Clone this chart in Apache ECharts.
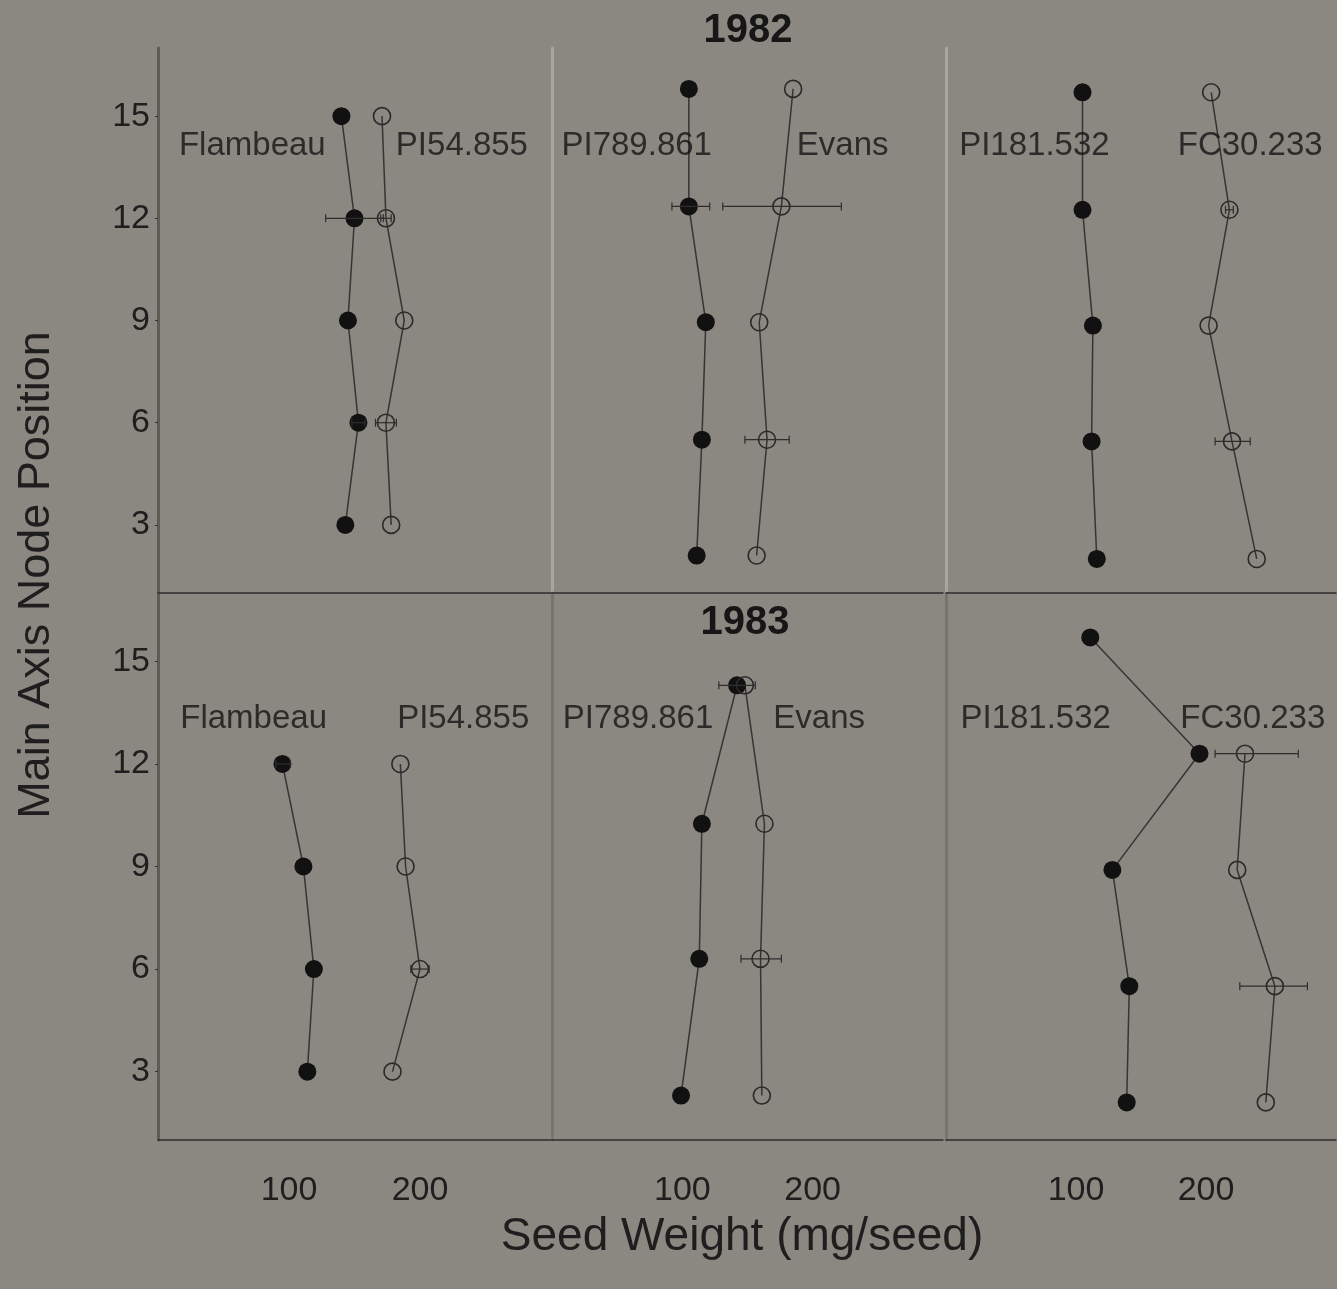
<!DOCTYPE html>
<html>
<head>
<meta charset="utf-8">
<script src="https://cdn.jsdelivr.net/npm/echarts@6/dist/echarts.min.js"></script>
<style>
  html, body { margin: 0; padding: 0; background: #8b8781; }
  #chart { width: 1337px; height: 1289px; }
</style>
</head>
<body>
<div id="chart"></div>
<script>
// ---------- DATA ----------
const yTickValues = [3, 6, 9, 12, 15];
const xTickValues = [100, 200];
const years = ['1982', '1983'];
const cultivarNames = ['Flambeau', 'PI54.855', 'PI789.861', 'Evans', 'PI181.532', 'FC30.233'];

// 1982 (node position, seed weight mg/seed)
const node82_c1 = [15, 12, 9, 6, 3];
const flambeau82 = [140, 150, 145, 153, 143];
const pi54855_82 = [171, 174, 188, 174, 178];
const node82_c2 = [15.8, 12.35, 8.95, 5.5, 2.1];
const pi789861_82 = [105, 105, 118, 115, 111];
const evans82 = [185, 176, 159, 165, 157];
const node82_c3 = [15.7, 12.25, 8.85, 5.45, 2.0];
const pi181532_82 = [105, 105, 113, 112, 116];
const fc30233_82 = [204, 218, 202, 220, 239];

// 1983
const node83_c1 = [12, 9, 6, 3];
const flambeau83 = [95, 111, 119, 114];
const pi54855_83 = [185, 189, 200, 179];
const node83_c2 = [14.3, 10.25, 6.3, 2.3];
const pi789861_83 = [142, 115, 113, 99];
const evans83 = [148, 163, 160, 161];
const node83_c3a = [15.7, 12.3, 8.9, 5.5, 2.1];
const pi181532_83 = [111, 195, 128, 141, 139];
const node83_c3b = [12.3, 8.9, 5.5, 2.1];
const fc30233_83 = [230, 224, 253, 246];

// error bars: [node, low, high]
const flambeau82_err = [[12, 128, 172], [6, 148, 158]];
const pi54855_82_err = [[12, 170, 178], [6, 166, 182]];
const pi789861_82_err = [[12.35, 92, 121]];
const evans82_err = [[12.35, 131, 222], [5.5, 148, 182]];
const fc30233_82_err = [[12.25, 215, 221], [5.45, 207, 234]];
const flambeau83_err = [[12, 90, 101]];
const pi54855_83_err = [[6, 193, 207]];
const pi789861_83_err = [[14.3, 128, 156]];
const evans83_err = [[6.3, 145, 176]];
const fc30233_83_err = [[12.3, 207, 271], [5.5, 226, 278]];

// ---------- BUILD ----------
const FONT = "'Liberation Sans', Arial, Helvetica, sans-serif";
const zip = (xs, ys) => xs.map((x, i) => [x, ys[i]]);

const colLeft = [158, 552, 946];
const colWidth = [393, 391, 390];
const rowTop = [48, 593];
const rowHeight = [545, 547];

const grids = [], xAxes = [], yAxes = [];
for (let r = 0; r < 2; r++) {
  for (let c = 0; c < 3; c++) {
    const i = r * 3 + c;
    grids.push({ left: colLeft[c], top: rowTop[r], width: colWidth[c], height: rowHeight[r], containLabel: false });
    xAxes.push({
      type: 'value', gridIndex: i, min: 0, max: 300,
      splitLine: { show: false },
      axisLine: { show: true, onZero: false, lineStyle: { color: '#2e2e2e', width: 1.5 } },
      axisTick: { show: false },
      axisLabel: {
        show: r === 1, customValues: xTickValues, margin: 34,
        fontFamily: FONT, fontSize: 34, color: '#1e1e1e'
      }
    });
    yAxes.push({
      type: 'value', gridIndex: i, min: 1, max: 17,
      splitLine: { show: false },
      axisLine: { show: true, onZero: false, lineStyle: c === 0 ? { color: '#5e5b57', width: 3 } : { color: (r === 0 ? '#a9a6a0' : '#77746f'), width: 3 } },
      axisTick: { show: c === 0, customValues: yTickValues, length: 3, lineStyle: { color: '#333', width: 1 } },
      axisLabel: {
        show: c === 0, customValues: yTickValues, margin: 8,
        fontFamily: FONT, fontSize: 34, color: '#1e1e1e'
      }
    });
  }
}

const lineStyle = { color: '#353535', width: 1.5 };
function filled(idx, xs, ys) {
  return {
    type: 'line', xAxisIndex: idx, yAxisIndex: idx, data: zip(xs, ys),
    symbol: 'circle', symbolSize: 18, showSymbol: true,
    lineStyle: lineStyle, itemStyle: { color: '#111111' }, z: 3
  };
}
function open(idx, xs, ys) {
  return {
    type: 'line', xAxisIndex: idx, yAxisIndex: idx, data: zip(xs, ys),
    symbol: 'circle', symbolSize: 17, showSymbol: true,
    lineStyle: lineStyle, itemStyle: { color: 'rgba(0,0,0,0)', borderColor: '#2a2a2a', borderWidth: 1.6 }, z: 3
  };
}
function errBars(idx, triples) {
  return {
    type: 'custom', xAxisIndex: idx, yAxisIndex: idx, data: triples, z: 4,
    encode: { x: [1, 2], y: 0 },
    renderItem: function (params, api) {
      const y = api.value(0), lo = api.value(1), hi = api.value(2);
      const p1 = api.coord([lo, y]), p2 = api.coord([hi, y]);
      const st = { stroke: '#2e2e2e', lineWidth: 1.2 };
      return {
        type: 'group', children: [
          { type: 'line', shape: { x1: p1[0], y1: p1[1], x2: p2[0], y2: p2[1] }, style: st },
          { type: 'line', shape: { x1: p1[0], y1: p1[1] - 4, x2: p1[0], y2: p1[1] + 4 }, style: st },
          { type: 'line', shape: { x1: p2[0], y1: p2[1] - 4, x2: p2[0], y2: p2[1] + 4 }, style: st }
        ]
      };
    }
  };
}
// annotation placement (panel index, x, y in data units)
const annotPlace = [
  [0, 72, 14.12], [0, 232, 14.12], [1, 65, 14.12], [1, 223, 14.12], [2, 68, 14.12], [2, 234, 14.12],
  [3, 73, 13.33], [3, 233, 13.33], [4, 66, 13.33], [4, 205, 13.33], [5, 69, 13.33], [5, 236, 13.33]
];
const annotSeries = annotPlace.map((a, k) => ({
  type: 'scatter', xAxisIndex: a[0], yAxisIndex: a[0], z: 5, silent: true,
  symbolSize: 1, itemStyle: { color: 'rgba(0,0,0,0)' },
  data: [[a[1], a[2]]],
  label: {
    show: true, position: 'inside', formatter: cultivarNames[k % 6],
    fontFamily: FONT, fontSize: 33, color: '#141414'
  }
}));

const series = [
  filled(0, flambeau82, node82_c1), open(0, pi54855_82, node82_c1),
  filled(1, pi789861_82, node82_c2), open(1, evans82, node82_c2),
  filled(2, pi181532_82, node82_c3), open(2, fc30233_82, node82_c3),
  filled(3, flambeau83, node83_c1), open(3, pi54855_83, node83_c1),
  filled(4, pi789861_83, node83_c2), open(4, evans83, node83_c2),
  filled(5, pi181532_83, node83_c3a), open(5, fc30233_83, node83_c3b),
  errBars(0, flambeau82_err), errBars(0, pi54855_82_err),
  errBars(1, pi789861_82_err), errBars(1, evans82_err),
  errBars(2, fc30233_82_err),
  errBars(3, flambeau83_err), errBars(3, pi54855_83_err),
  errBars(4, pi789861_83_err), errBars(4, evans83_err),
  errBars(5, fc30233_83_err)
].concat(annotSeries);

const option = {
  backgroundColor: '#8b8781',
  animation: false,
  grid: grids,
  xAxis: xAxes,
  yAxis: yAxes,
  series: series,
  graphic: [
    { type: 'text', x: 748, y: 31, style: { text: years[0], font: 'bold 40px ' + FONT, fill: '#161616', textAlign: 'center', textVerticalAlign: 'middle' } },
    { type: 'text', x: 745, y: 623, style: { text: years[1], font: 'bold 40px ' + FONT, fill: '#161616', textAlign: 'center', textVerticalAlign: 'middle' } },
    { type: 'text', x: 37, y: 575, rotation: Math.PI / 2, style: { text: 'Main Axis Node Position', font: '45px ' + FONT, fill: '#1e1e1e', textAlign: 'center', textVerticalAlign: 'middle' } },
    { type: 'text', x: 742, y: 1237, style: { text: 'Seed Weight (mg/seed)', font: '46px ' + FONT, fill: '#1e1e1e', textAlign: 'center', textVerticalAlign: 'middle' } }
  ]
};

const chart = echarts.init(document.getElementById('chart'), null, { renderer: 'canvas' });
chart.setOption(option);
</script>
</body>
</html>
